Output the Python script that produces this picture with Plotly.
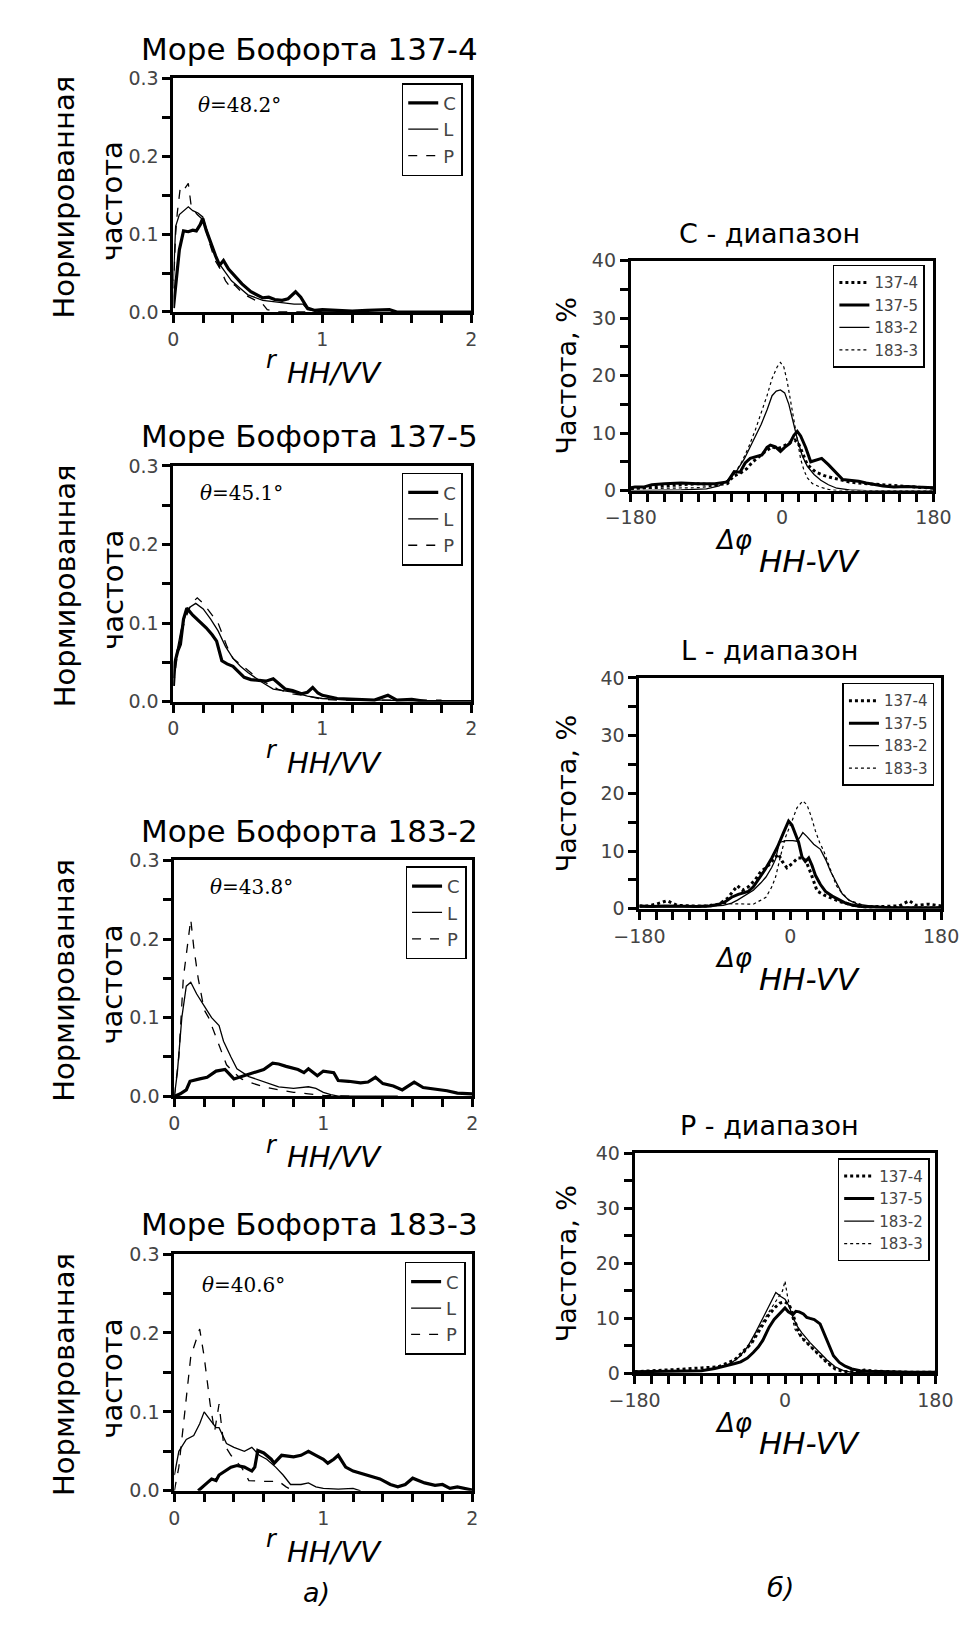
import plotly.graph_objects as go

W, H = 975, 1625

# ================= DATA =================
# --- (a) r_HH/VV histograms, Beaufort Sea ---
# 137-4
A1_C_X = [0, 0.02, 0.04, 0.068, 0.1, 0.13, 0.154, 0.18, 0.197, 0.22, 0.25, 0.283, 0.31, 0.336, 0.37, 0.41, 0.46, 0.52, 0.6, 0.64, 0.68, 0.73, 0.77, 0.82, 0.855, 0.9, 0.95, 1.0, 1.1, 1.2, 1.3, 1.45, 1.5, 1.6, 2.0]
A1_C_Y = [0.005, 0.04, 0.08, 0.104, 0.103, 0.105, 0.104, 0.112, 0.12, 0.105, 0.088, 0.072, 0.06, 0.066, 0.055, 0.047, 0.036, 0.026, 0.018, 0.019, 0.016, 0.015, 0.017, 0.026, 0.019, 0.005, 0.002, 0.003, 0.002, 0.001, 0.002, 0.003, 0.0, 0.0, 0.0]
A1_L_X = [0, 0.015, 0.04, 0.07, 0.1, 0.13, 0.165, 0.197, 0.24, 0.3, 0.35, 0.39, 0.45, 0.5, 0.6, 0.71, 0.81, 0.87, 0.9, 1.0, 1.2]
A1_L_Y = [0.04, 0.11, 0.125, 0.13, 0.135, 0.13, 0.127, 0.122, 0.095, 0.064, 0.05, 0.04, 0.03, 0.022, 0.015, 0.012, 0.01, 0.01, 0.003, 0.0, 0.0]
A1_P_X = [0, 0.015, 0.026, 0.047, 0.075, 0.1, 0.12, 0.16, 0.2, 0.24, 0.28, 0.315, 0.35, 0.39, 0.41, 0.45, 0.5, 0.6, 0.63, 0.7, 0.9]
A1_P_Y = [0.03, 0.1, 0.127, 0.161, 0.158, 0.165, 0.135, 0.125, 0.118, 0.09, 0.066, 0.055, 0.04, 0.03, 0.035, 0.027, 0.02, 0.01, 0.003, 0.0, 0.0]
# 137-5
A2_C_X = [0, 0.01, 0.03, 0.047, 0.068, 0.09, 0.13, 0.17, 0.22, 0.26, 0.29, 0.325, 0.36, 0.4, 0.44, 0.475, 0.52, 0.56, 0.62, 0.67, 0.75, 0.8, 0.86, 0.9, 0.935, 0.97, 1.0, 1.1, 1.2, 1.35, 1.44, 1.5, 1.6, 1.7, 2.0]
A2_C_Y = [0.02, 0.05, 0.065, 0.073, 0.105, 0.119, 0.11, 0.103, 0.094, 0.085, 0.077, 0.052, 0.048, 0.045, 0.038, 0.031, 0.028, 0.027, 0.026, 0.029, 0.016, 0.014, 0.01, 0.012, 0.018, 0.011, 0.008, 0.004, 0.003, 0.002, 0.008, 0.002, 0.003, 0.0, 0.0]
A2_L_X = [0, 0.02, 0.05, 0.08, 0.11, 0.15, 0.2, 0.25, 0.3, 0.35, 0.4, 0.45, 0.5, 0.55, 0.6, 0.67, 0.75, 0.8, 0.9, 1.0, 1.1, 1.2, 1.4, 1.6, 1.8]
A2_L_Y = [0.03, 0.06, 0.09, 0.11, 0.12, 0.125, 0.118, 0.105, 0.09, 0.07, 0.055, 0.045, 0.037, 0.03, 0.024, 0.016, 0.014, 0.012, 0.007, 0.004, 0.003, 0.002, 0.002, 0.001, 0.001]
A2_P_X = [0, 0.02, 0.05, 0.08, 0.12, 0.16, 0.2, 0.25, 0.3, 0.33, 0.36, 0.4, 0.45, 0.5, 0.55, 0.6, 0.7, 0.8, 0.9, 1.0, 1.1, 1.3, 1.5, 1.8]
A2_P_Y = [0.02, 0.05, 0.085, 0.105, 0.125, 0.132, 0.125, 0.112, 0.1, 0.085, 0.07, 0.055, 0.048, 0.04, 0.032, 0.026, 0.016, 0.01, 0.007, 0.003, 0.002, 0.002, 0.002, 0.002]
# 183-2
A3_C_X = [0, 0.04, 0.08, 0.105, 0.17, 0.22, 0.28, 0.34, 0.4, 0.47, 0.53, 0.6, 0.66, 0.7, 0.75, 0.83, 0.87, 0.9, 0.96, 1.0, 1.07, 1.1, 1.17, 1.25, 1.3, 1.35, 1.4, 1.47, 1.53, 1.57, 1.61, 1.67, 1.75, 1.83, 1.9, 2.0]
A3_C_Y = [0.0, 0.003, 0.008, 0.019, 0.022, 0.024, 0.032, 0.034, 0.022, 0.026, 0.03, 0.034, 0.042, 0.041, 0.038, 0.034, 0.03, 0.035, 0.026, 0.032, 0.03, 0.02, 0.019, 0.017, 0.018, 0.024, 0.016, 0.013, 0.008, 0.013, 0.018, 0.011, 0.009, 0.007, 0.004, 0.003]
A3_L_X = [0, 0.02, 0.05, 0.08, 0.11, 0.15, 0.2, 0.25, 0.3, 0.33, 0.38, 0.42, 0.5, 0.6, 0.7, 0.8, 0.9, 0.95, 1.0, 1.05, 1.1, 1.5]
A3_L_Y = [0.0, 0.03, 0.1, 0.14, 0.145, 0.13, 0.115, 0.1, 0.09, 0.07, 0.05, 0.035, 0.025, 0.018, 0.012, 0.01, 0.012, 0.01, 0.005, 0.002, 0.0, 0.0]
A3_P_X = [0, 0.03, 0.06, 0.09, 0.11, 0.13, 0.16, 0.2, 0.23, 0.27, 0.3, 0.35, 0.4, 0.45, 0.5, 0.6, 0.7, 0.8, 0.9, 1.0, 1.2]
A3_P_Y = [0.0, 0.05, 0.15, 0.2, 0.225, 0.19, 0.15, 0.11, 0.1, 0.08, 0.065, 0.04, 0.03, 0.022, 0.018, 0.012, 0.008, 0.005, 0.003, 0.001, 0.0]
# 183-3
A4_C_X = [0.16, 0.2, 0.22, 0.25, 0.28, 0.3, 0.34, 0.38, 0.42, 0.47, 0.52, 0.54, 0.56, 0.6, 0.65, 0.67, 0.72, 0.8, 0.85, 0.9, 0.95, 1.0, 1.03, 1.07, 1.1, 1.15, 1.2, 1.3, 1.38, 1.45, 1.5, 1.55, 1.6, 1.68, 1.75, 1.8, 1.85, 1.9, 2.0]
A4_C_Y = [0.0, 0.006, 0.01, 0.015, 0.013, 0.02, 0.025, 0.03, 0.032, 0.03, 0.025, 0.03, 0.051, 0.048, 0.04, 0.035, 0.045, 0.043, 0.045, 0.05, 0.045, 0.04, 0.035, 0.04, 0.045, 0.03, 0.025, 0.02, 0.015, 0.008, 0.005, 0.008, 0.016, 0.01, 0.007, 0.008, 0.003, 0.005, 0.001]
A4_L_X = [0, 0.03, 0.08, 0.13, 0.17, 0.2, 0.24, 0.28, 0.3, 0.35, 0.4, 0.47, 0.52, 0.57, 0.62, 0.68, 0.73, 0.78, 0.85, 0.9, 0.95, 1.0, 1.1, 1.2, 1.25]
A4_L_Y = [0.02, 0.05, 0.065, 0.07, 0.085, 0.1, 0.09, 0.08, 0.08, 0.06, 0.055, 0.05, 0.055, 0.045, 0.04, 0.03, 0.02, 0.008, 0.008, 0.01, 0.005, 0.003, 0.002, 0.003, 0.0]
A4_P_X = [0, 0.03, 0.07, 0.11, 0.17, 0.2, 0.24, 0.27, 0.3, 0.33, 0.38, 0.45, 0.5, 0.6, 0.7, 0.75, 0.8]
A4_P_Y = [0.0, 0.03, 0.1, 0.17, 0.205, 0.17, 0.11, 0.075, 0.11, 0.06, 0.045, 0.03, 0.013, 0.012, 0.012, 0.005, 0.0]

A_TITLES = ["Море Бофорта 137-4", "Море Бофорта 137-5", "Море Бофорта 183-2", "Море Бофорта 183-3"]
A_THETA = ["48.2", "45.1", "43.8", "40.6"]
A_BANDS = ["C", "L", "P"]

# --- (б) Δφ_HH-VV histograms ---
B_TITLES = ["C - диапазон", "L - диапазон", "P - диапазон"]
B_SERIES = ["137-4", "137-5", "183-2", "183-3"]

# C band
BC_1374_X = [-180, -160, -140, -120, -100, -80, -65, -58, -50, -42, -35, -28, -20, -12, -5, 0, 5, 10, 15, 20, 25, 30, 40, 50, 60, 70, 80, 90, 100, 120, 140, 160, 180]
BC_1374_Y = [0.3, 0.6, 0.8, 1.0, 1.2, 1.0, 1.2, 2.5, 3.0, 3.8, 5.0, 5.8, 6.8, 7.6, 7.3, 7.6, 8.0, 8.5, 8.8, 8.0, 6.2, 4.5, 3.2, 2.6, 2.2, 1.8, 1.5, 1.3, 1.2, 1.0, 0.8, 0.6, 0.4]
BC_1375_X = [-180, -175, -165, -155, -140, -120, -100, -80, -65, -60, -57, -50, -44, -38, -30, -24, -18, -14, -8, -2, 3, 9, 14, 18, 22, 28, 34, 40, 47, 55, 65, 72, 80, 91, 100, 110, 120, 133, 148, 160, 170, 180]
BC_1375_Y = [0.5, 0.6, 0.6, 1.0, 1.2, 1.3, 1.2, 1.2, 1.5, 2.5, 3.3, 3.2, 4.8, 5.6, 5.9, 6.2, 7.5, 7.9, 7.6, 6.8, 7.5, 8.2, 9.6, 10.3, 9.5, 7.5, 5.0, 5.3, 5.6, 4.5, 3.0, 1.9, 1.8, 1.6, 1.3, 1.0, 0.8, 0.6, 0.7, 0.6, 0.6, 0.5]
BC_1832_X = [-180, -120, -90, -75, -65, -55, -45, -35, -25, -18, -12, -7, -2, 3, 8, 13, 18, 24, 30, 38, 46, 55, 65, 80, 100, 180]
BC_1832_Y = [0.0, 0.1, 0.3, 0.8, 1.8, 3.2, 5.5, 8.5, 11.5, 14.0, 16.5, 17.3, 17.5, 17.0, 15.0, 12.0, 9.0, 6.0, 4.2, 2.8, 1.8, 1.0, 0.4, 0.1, 0.0, 0.0]
BC_1833_X = [-180, -140, -100, -80, -70, -62, -55, -48, -40, -32, -25, -18, -12, -6, -2, 2, 6, 10, 14, 18, 22, 26, 30, 36, 45, 55, 65, 80, 100, 180]
BC_1833_Y = [0.3, 0.4, 0.5, 0.8, 1.2, 2.0, 3.3, 5.0, 7.5, 10.5, 13.5, 16.5, 19.5, 21.5, 22.3, 21.5, 19.0, 15.5, 12.0, 8.5, 5.5, 3.5, 2.2, 1.2, 0.6, 0.2, 0.0, 0.0, 0.0, 0.0]
# L band
BL_1374_X = [-180, -170, -160, -147, -135, -120, -100, -85, -75, -68, -63, -57, -50, -42, -35, -28, -20, -14, -10, -4, 2, 9, 15, 19, 25, 32, 40, 50, 60, 75, 90, 110, 130, 142, 150, 165, 180]
BL_1374_Y = [0.5, 0.5, 0.8, 1.4, 0.6, 0.5, 0.5, 0.8, 1.8, 3.0, 4.0, 3.2, 3.8, 5.0, 6.5, 7.2, 8.5, 9.5, 8.3, 7.1, 7.8, 8.8, 8.8, 8.2, 6.0, 3.1, 2.4, 1.8, 1.2, 0.6, 0.3, 0.4, 0.5, 1.4, 0.6, 0.8, 0.5]
BL_1375_X = [-180, -165, -150, -130, -110, -95, -85, -78, -70, -62, -56, -50, -44, -38, -30, -22, -15, -8, -4, -2, 2, 6, 10, 14, 18, 22, 26, 30, 36, 42, 50, 58, 66, 75, 85, 100, 120, 150, 180]
BL_1375_Y = [0.5, 0.4, 0.5, 0.4, 0.4, 0.5, 0.8, 1.2, 2.0, 2.5, 2.7, 3.0, 3.8, 5.0, 6.8, 8.8, 10.8, 13.2, 14.5, 15.2, 14.5, 13.0, 11.5, 9.0, 8.2, 8.8, 7.5, 5.8, 4.2, 3.0, 2.2, 1.6, 1.0, 0.6, 0.4, 0.3, 0.2, 0.2, 0.2]
BL_1832_X = [-180, -140, -100, -80, -70, -63, -55, -44, -35, -29, -22, -17.5, -13, -5, 3, 8, 12, 15, 20, 28, 36, 43, 48, 54, 62, 70, 80, 95, 120, 150, 180]
BL_1832_Y = [0.3, 0.3, 0.4, 0.6, 1.0, 1.5, 2.2, 3.2, 4.5, 5.5, 7.2, 8.6, 11.5, 11.8, 11.8, 11.7, 12.5, 13.2, 12.5, 11.2, 10.3, 8.3, 6.5, 4.8, 2.6, 1.5, 0.8, 0.5, 0.3, 0.2, 0.2]
BL_1833_X = [-180, -150, -120, -100, -82, -60, -44, -35, -29, -22, -17.5, -12, -6, 1.5, 8, 15, 20, 25, 30, 35, 40, 45, 50, 55, 60, 70, 80, 90, 110, 140, 180]
BL_1833_Y = [0.5, 0.4, 0.5, 0.6, 0.9, 0.8, 0.8, 1.5, 2.0, 3.8, 5.5, 8.9, 12.3, 15.0, 17.5, 18.7, 18.0, 16.0, 13.5, 11.5, 10.0, 8.0, 6.0, 4.0, 3.0, 1.5, 1.0, 0.5, 0.4, 0.3, 0.3]
# P band
BP_1374_X = [-180, -150, -120, -100, -80, -70, -60, -50, -40, -30, -20, -12, -6, 0, 5, 10, 15, 20, 25, 30, 40, 50, 60, 70, 80, 95, 110, 130, 150, 180]
BP_1374_Y = [0.3, 0.5, 0.8, 1.0, 1.2, 1.8, 2.5, 4.0, 5.5, 8.0, 10.5, 12.0, 12.8, 13.0, 12.5, 10.5, 8.0, 6.5, 5.8, 5.0, 3.5, 2.0, 0.8, 0.3, 0.3, 0.6, 0.4, 0.3, 0.2, 0.2]
BP_1375_X = [-180, -150, -120, -100, -84, -75, -66, -60, -53, -45, -38, -32, -26.6, -19, -13, -7.6, -3, 0, 4, 9.5, 13, 17, 22, 26, 30, 35, 42, 46, 50, 53, 58, 65, 72, 80, 90, 100, 120, 150, 180]
BP_1375_Y = [0.3, 0.4, 0.5, 0.5, 0.9, 1.2, 1.5, 1.8, 2.1, 2.8, 3.8, 4.8, 6.0, 8.4, 9.8, 10.7, 11.5, 11.9, 11.2, 10.7, 11.3, 11.2, 10.8, 10.2, 10.0, 9.8, 9.0, 7.5, 6.0, 4.8, 3.2, 2.0, 1.3, 0.8, 0.5, 0.4, 0.3, 0.2, 0.2]
BP_1832_X = [-180, -140, -100, -80, -65, -55, -45, -35, -25, -18, -11, -5, 0, 5, 10, 15, 20, 30, 40, 50, 60, 70, 80, 100, 180]
BP_1832_Y = [0.3, 0.4, 0.5, 1.0, 1.8, 3.0, 4.8, 7.5, 10.5, 12.8, 14.7, 14.0, 13.5, 12.2, 10.0, 8.5, 7.4, 5.6, 4.0, 2.5, 1.2, 0.5, 0.2, 0.1, 0.1]
BP_1833_X = [-180, -140, -100, -80, -70, -60, -50, -40, -30, -20, -10, -3, 0, 3, 8, 12, 20, 30, 40, 50, 60, 70, 90, 120, 180]
BP_1833_Y = [0.3, 0.4, 0.5, 1.0, 1.5, 2.4, 3.5, 5.5, 8.5, 11.0, 13.5, 15.0, 16.8, 14.0, 10.5, 8.0, 6.5, 5.0, 3.5, 2.0, 1.0, 0.5, 0.3, 0.2, 0.2]

# ================= LAYOUT HELPERS =================
def fx(p):
    return p / W

def fy(p):
    return 1 - p / H

SANS = "DejaVu Sans"
SERIF = "DejaVu Serif"
TICKCOL = "#444"

# pixel rectangles (left, right, top, bottom)
A_RECT = [(146, 458, 60, 297), (146, 458, 453, 692), (147, 459, 853, 1092), (147, 459, 1252, 1492)]
A_LEG = [(449, 65), (449, 460), (453, 859), (452, 1260)]
A_THETA_POS = [(215, 87), (217, 480), (228, 880), (219, 1283)]
B_RECT = [(625, 942, 245, 478), (634, 950, 668, 902), (629, 944, 1150, 1373)]
B_LEG = [(933, 249), (943, 673), (938, 1155)]

A_DATA = [
    [(A1_C_X, A1_C_Y), (A1_L_X, A1_L_Y), (A1_P_X, A1_P_Y)],
    [(A2_C_X, A2_C_Y), (A2_L_X, A2_L_Y), (A2_P_X, A2_P_Y)],
    [(A3_C_X, A3_C_Y), (A3_L_X, A3_L_Y), (A3_P_X, A3_P_Y)],
    [(A4_C_X, A4_C_Y), (A4_L_X, A4_L_Y), (A4_P_X, A4_P_Y)],
]
B_DATA = [
    [(BC_1374_X, BC_1374_Y), (BC_1375_X, BC_1375_Y), (BC_1832_X, BC_1832_Y), (BC_1833_X, BC_1833_Y)],
    [(BL_1374_X, BL_1374_Y), (BL_1375_X, BL_1375_Y), (BL_1832_X, BL_1832_Y), (BL_1833_X, BL_1833_Y)],
    [(BP_1374_X, BP_1374_Y), (BP_1375_X, BP_1375_Y), (BP_1832_X, BP_1832_Y), (BP_1833_X, BP_1833_Y)],
]

A_STYLES = [dict(width=3.2, dash="solid"), dict(width=1.3, dash="solid"), dict(width=1.3, dash="dash")]
B_STYLES = [dict(width=3, dash="dot"), dict(width=3, dash="solid"), dict(width=1.3, dash="solid"), dict(width=1.2, dash="dot")]

fig = go.Figure()
layout = dict(width=W, height=H, margin=dict(l=0, r=0, t=0, b=0),
              paper_bgcolor="white", plot_bgcolor="white", showlegend=True,
              font=dict(family=SANS, color="black"))
annotations = []


def axis_common(rng, dtick, minor, fmt=None):
    d = dict(range=rng, dtick=dtick, tick0=rng[0],
             showline=True, linewidth=3, linecolor="black", mirror=True,
             ticks="outside", ticklen=8, tickwidth=3, tickcolor="black",
             minor=dict(ticks="outside", ticklen=8, tickwidth=3, tickcolor="black", dtick=minor),
             showgrid=False, zeroline=False,
             tickfont=dict(family=SANS, size=19, color=TICKCOL))
    if fmt:
        d["tickformat"] = fmt
    return d


def ann(x, y, text, size, family=SANS, angle=0, color="black"):
    annotations.append(dict(x=fx(x), y=fy(y), xref="paper", yref="paper", text=text,
                            showarrow=False, textangle=angle, xanchor="center", yanchor="middle",
                            font=dict(family=family, size=size, color=color)))


idx = 0
# ---- left column ----
for i in range(4):
    idx += 1
    l, r, t, b = A_RECT[i]
    xa = "xaxis" if idx == 1 else f"xaxis{idx}"
    ya = "yaxis" if idx == 1 else f"yaxis{idx}"
    xs = "x" if idx == 1 else f"x{idx}"
    ys = "y" if idx == 1 else f"y{idx}"
    leg = "legend" if idx == 1 else f"legend{idx}"
    layout[xa] = dict(domain=[fx(l), fx(r)], anchor=ys, **axis_common([0, 2], 1, 0.2))
    layout[ya] = dict(domain=[fy(b), fy(t)], anchor=xs, **axis_common([0, 0.3], 0.1, 0.05, ".1f"))
    for k, (xv, yv) in enumerate(A_DATA[i]):
        fig.add_trace(go.Scatter(x=xv, y=yv, mode="lines", name=A_BANDS[k], xaxis=xs, yaxis=ys,
                                 legend=leg, line=dict(color="black", **A_STYLES[k])))
    lx, ly = A_LEG[i]
    layout[leg] = dict(x=fx(lx), y=fy(ly), xanchor="right", yanchor="top", bgcolor="white",
                       bordercolor="black", borderwidth=1.5, tracegroupgap=0,
                       font=dict(family=SANS, size=18, color=TICKCOL))
    ann(288, t - 30, A_TITLES[i], 31)
    ann(32, (t + b) / 2 + 2, "Нормированная", 29, angle=-90)
    ann(82, (t + b) / 2 + 6, "частота", 29, angle=-90)
    tx, ty = A_THETA_POS[i]
    ann(tx, ty, f"<i>θ</i>={A_THETA[i]}°", 20, family=SERIF)
    ann(249, b + 49, "<i>r</i>", 24)
    ann(315, b + 62, "<i>HH/VV</i>", 29)

# ---- right column ----
for j in range(3):
    idx += 1
    l, r, t, b = B_RECT[j]
    xa, ya = f"xaxis{idx}", f"yaxis{idx}"
    xs, ys = f"x{idx}", f"y{idx}"
    leg = f"legend{idx}"
    layout[xa] = dict(domain=[fx(l), fx(r)], anchor=ys, **axis_common([-180, 180], 180, 20))
    layout[ya] = dict(domain=[fy(b), fy(t)], anchor=xs, **axis_common([0, 40], 10, 5))
    for k, (xv, yv) in enumerate(B_DATA[j]):
        fig.add_trace(go.Scatter(x=xv, y=yv, mode="lines", name=B_SERIES[k], xaxis=xs, yaxis=ys,
                                 legend=leg, line=dict(color="black", **B_STYLES[k])))
    lx, ly = B_LEG[j]
    layout[leg] = dict(x=fx(lx), y=fy(ly), xanchor="right", yanchor="top", bgcolor="white",
                       bordercolor="black", borderwidth=1.5, tracegroupgap=0,
                       font=dict(family=SANS, size=15, color=TICKCOL))
    ann(770, t - 28, B_TITLES[j], 27)
    ann(558, (t + b) / 2, "Частота, %", 27, angle=-90)
    ann(733, b + 50, "<i>Δφ</i>", 26)
    ann(813, b + 71, "<i>HH-VV</i>", 31)

ann(296, 1595, "<i>а)</i>", 27)
ann(782, 1590, "<i>б)</i>", 27)

layout["annotations"] = annotations
fig.update_layout(**layout)
fig.write_html("out.html")
